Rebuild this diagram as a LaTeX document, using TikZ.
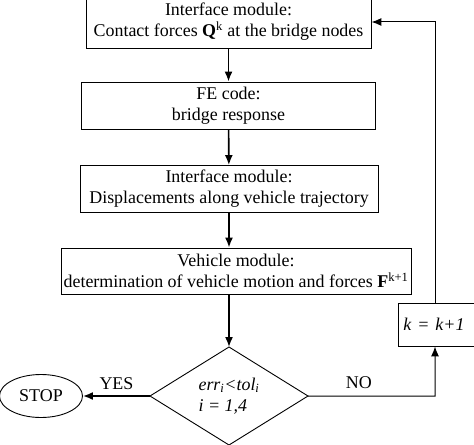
\documentclass[tikz,border=0pt]{standalone}
\usepackage{fontspec}
\setmainfont{Liberation Serif}
\usetikzlibrary{positioning,shapes.geometric,arrows.meta}
\tikzset{>={Latex[length=10bp,width=8bp]}}
\tikzset{
  box/.style={draw, line width=0.9bp, align=center, inner sep=0pt, minimum height=47bp},
  flow/.style={->, line width=1.6bp},
  loop/.style={->, line width=1bp}
}

\begin{document}
\begin{tikzpicture}[x=1bp, y=-1bp, font=\fontsize{18}{21}\selectfont]
      \clip (0,0) rectangle (474,445);
      \node[box, minimum width=285bp, minimum height=52bp] (n0) at (228.5,22) {Interface module:\\Contact forces \textbf{Q}\textsuperscript{k} at the bridge nodes};
      \node[box, below of=n0, node distance=83.5bp, minimum width=294bp] (n1) {FE code:\\bridge response};
      \node[box, below of=n1, node distance=83.5bp, minimum width=298bp, xshift=0.5bp] (n2) {Interface module:\\Displacements along vehicle trajectory};
      \node[box, below of=n2, node distance=82bp, xshift=7bp, minimum width=350bp, minimum height=46bp] (n3) {Vehicle module:\\determination of vehicle motion and forces \textbf{F}\textsuperscript{k+1}};
      \node[draw, diamond, line width=0.9bp, below of=n3, node distance=125bp, xshift=-7bp, minimum width=158bp, minimum height=98bp, aspect=1.6, inner sep=0pt, outer sep=0pt, align=left] (n4) {\itshape err\textsubscript{i}<tol\textsubscript{i}\\\itshape i = 1,4};
      \node[draw, ellipse, line width=0.9bp, left of=n4, node distance=188bp, minimum width=83bp, minimum height=43bp, inner sep=0pt] (n5) {STOP};
      \node[draw, line width=0.9bp, anchor=west, minimum width=150bp, minimum height=43bp, text width=140bp, inner xsep=5bp, align=left] (n6) at (398,324.5) {\itshape k = k+1};
      \coordinate (aux1) at (435,396);
      \draw[flow] (n0) to (n1);
      \draw[flow] (n1) to (n2);
      \draw[flow] (n2.south) to (n2.south |- n3.north);
      \draw[flow] (n4.north |- n3.south) to (n4.north);
      \draw[flow] (n4.west) to node[above=2bp]{YES} (n5.east);
      \draw[loop] (n4.east) to node[above=4bp, pos=0.4]{NO} (aux1) to (aux1 |- n6.south);
      \draw[loop] (aux1 |- n6.north) |- (n0.east);
    \end{tikzpicture}
\end{document}
